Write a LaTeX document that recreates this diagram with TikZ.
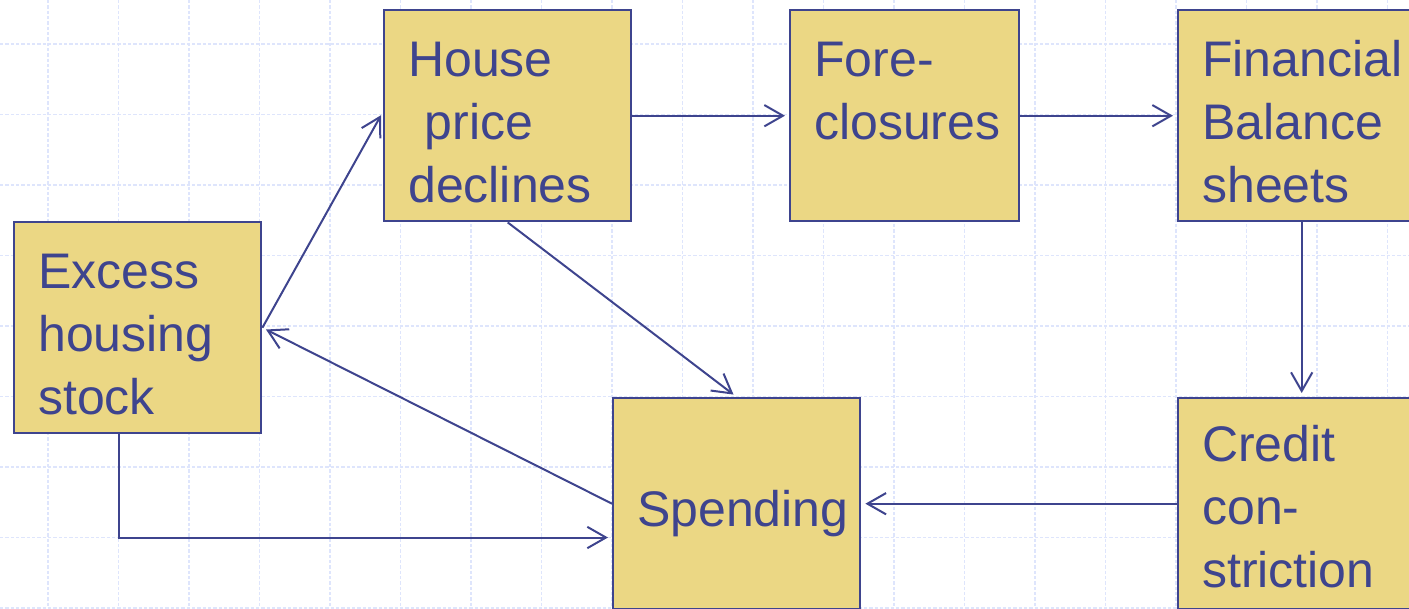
\documentclass[tikz,border=0pt]{standalone}
\usepackage{fontspec}
\setmainfont{Liberation Sans}
\usetikzlibrary{arrows.meta}
\hyphenpenalty=10000
\definecolor{boxfill}{RGB}{235,215,132}
\definecolor{inkblue}{RGB}{62,68,142}
\definecolor{gridblue}{RGB}{222,229,252}
\tikzset{every picture/.style={line width=0.75pt}}
\tikzset{
  stagebox/.style={draw=inkblue, line width=1.8pt, fill=boxfill, text=inkblue,
    anchor=north west, align=left, inner xsep=18pt, inner ysep=0pt,
    text width=149.25pt, text height=49.5pt, text depth=108.75pt,
    font=\fontsize{37.5pt}{47.5pt}\selectfont},
  flow/.style={draw=inkblue, line width=1.5pt,
    -{Straight Barb[length=14pt,width=16pt,line width=1.5pt]}, shorten >=3pt},
  gridline/.style={draw=gridblue, line width=1.1pt, dash pattern=on 2.5pt off 1.5pt},
}

\begin{document}
\begin{tikzpicture}[x=0.75pt,y=0.75pt,yscale=-1,xscale=1]
\useasboundingbox (0,0) rectangle (1409,608);
\clip (0,0) rectangle (1409,608);

%Shape: Grid
\foreach \gx in {48,118.5,...,1409} \draw[gridline] (\gx,0) -- (\gx,608);
\foreach \gy in {44,114.5,...,608} \draw[gridline] (0,\gy) -- (1409,\gy);

%Shape: Rectangle [excess housing stock]
\node[stagebox] (ehs) at (13,221) {Excess\\housing\\stock};
%Shape: Rectangle [house price declines]
\node[stagebox] (hpd) at (383,9) {House\\\ price\\declines};
%Shape: Rectangle [fore-closures]
\node[stagebox, text width=135.75pt] (fc) at (789,9) {Fore-\\closures};
%Shape: Rectangle [financial balance sheets]
\node[stagebox] (fbs) at (1177,9) {Financial\\Balance\\sheets};
%Shape: Rectangle [spending]
\node[stagebox, text height=96pt, text depth=62.25pt] (sp) at (612,397) {Spending};
%Shape: Rectangle [credit constriction]
\node[stagebox, text height=47.25pt, text depth=111pt] (cc) at (1177,397) {Credit\\con-\\striction};

%Straight Lines
\draw[flow] (ehs.east) -- ([yshift=-3pt]hpd.west);
\draw[flow] (hpd.east) -- (fc.west);
\draw[flow] (fc.east) -- (fbs.west);
\draw[flow] (fbs.south) -- (cc.north);
\draw[flow] (cc.west) -- (sp.east);
\draw[flow] (sp.west) -- (ehs.east);
\draw[flow] (hpd.south) -- (sp.north);
%Elbow Line
\coordinate (elbow) at (119,537.5);
\draw[flow] (ehs.south -| elbow) -- (elbow) -- (elbow -| sp.west);

\end{tikzpicture}
\end{document}
